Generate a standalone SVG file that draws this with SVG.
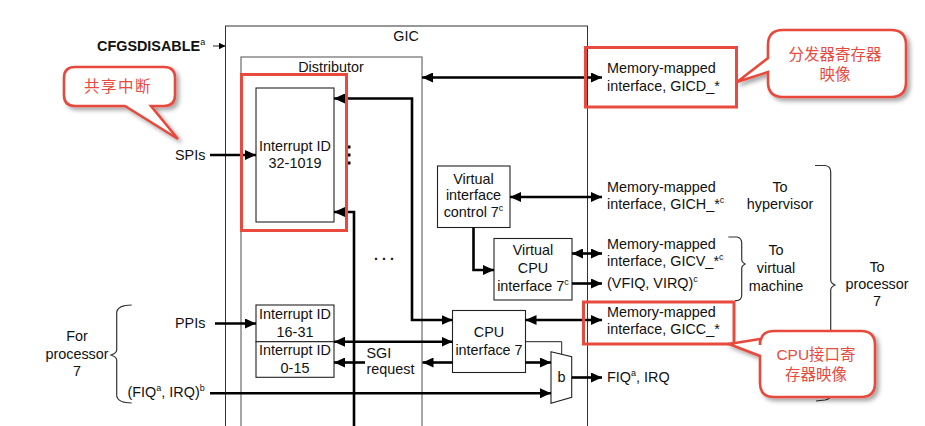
<svg xmlns="http://www.w3.org/2000/svg" width="925" height="426" viewBox="0 0 925 426">
<defs>
<style>
text{font-family:"Liberation Sans",Arial,sans-serif;font-size:14.4px;fill:#111}
.c{text-anchor:middle}
.b{font-weight:bold}
.sup{font-size:9px}
.box{fill:#fff;stroke:#222;stroke-width:1.1}
.thin{fill:none;stroke:#222;stroke-width:1}
.w{fill:none;stroke:#000;stroke-width:2.6}
.brace{fill:none;stroke:#333;stroke-width:1.2}
.red{fill:none;stroke:#E84A3E;stroke-width:3}
.call{fill:#fff;stroke:#E84A3E;stroke-width:2.6;filter:url(#sh)}
.ct{font-family:"Liberation Sans","Noto Sans CJK SC",sans-serif;font-size:15.5px;fill:#E84A3E;text-anchor:middle}
</style>
<marker id="ah" markerUnits="userSpaceOnUse" markerWidth="12" markerHeight="10" refX="11" refY="5" orient="auto-start-reverse">
<path d="M0,0 L11,5 L0,10 Z" fill="#000"/>
</marker>
<marker id="as" markerUnits="userSpaceOnUse" markerWidth="8" markerHeight="7" refX="7" refY="3.5" orient="auto">
<path d="M0,0 L7,3.5 L0,7 Z" fill="#000"/>
</marker>
<filter id="sh" x="-20%" y="-20%" width="150%" height="150%">
<feDropShadow dx="3" dy="3" stdDeviation="2" flood-color="#000" flood-opacity="0.35"/>
</filter>
</defs>

<g id="gic">
<rect x="225.5" y="26" width="362" height="420" fill="#fff" stroke="#333" stroke-width="1"/>
<text class="c" x="406" y="41">GIC</text>
</g>
<g id="distributor">
<rect x="241" y="57" width="181" height="400" fill="#fff" stroke="#777" stroke-width="1.3"/>
<text class="c" x="331" y="72">Distributor</text>
</g>
<g id="cfgsdisable">
<text class="b" x="97" y="51">CFGSDISABLE<tspan class="sup" font-weight="normal" dy="-6">a</tspan></text>
</g>
<g id="int32">
<rect class="box" x="256" y="88" width="78" height="134"/>
<text class="c" x="295" y="151">Interrupt ID</text>
<text class="c" x="295" y="168">32-1019</text>
</g>
<g id="dots">
<rect x="347.5" y="145.5" width="3" height="3" fill="#000"/>
<rect x="347.5" y="153.5" width="3" height="3" fill="#000"/>
<rect x="347.5" y="161.5" width="3" height="3" fill="#000"/>
<text class="c b" x="386" y="260" letter-spacing="4">...</text>
</g>
<g id="int16">
<rect class="box" x="256" y="305" width="78" height="36.7"/>
<text class="c" x="295" y="319">Interrupt ID</text>
<text class="c" x="295" y="336.5">16-31</text>
</g>
<g id="int0">
<rect class="box" x="256" y="341.7" width="78" height="35.6"/>
<text class="c" x="295" y="355">Interrupt ID</text>
<text class="c" x="295" y="372.5">0-15</text>
</g>
<g id="vic">
<rect class="box" x="437.5" y="166" width="72.5" height="61.5"/>
<text class="c" x="473.5" y="183.5">Virtual</text>
<text class="c" x="473.5" y="200">interface</text>
<text class="c" x="473.5" y="217">control 7<tspan class="sup" dy="-6">c</tspan></text>
</g>
<g id="vcpu">
<rect class="box" x="494" y="238.5" width="78" height="61.5"/>
<text class="c" x="533" y="255">Virtual</text>
<text class="c" x="533" y="273">CPU</text>
<text class="c" x="533" y="290.5">interface 7<tspan class="sup" dy="-6">c</tspan></text>
</g>
<g id="cpu">
<rect class="box" x="452.5" y="310.5" width="73" height="62"/>
<text class="c" x="489" y="337">CPU</text>
<text class="c" x="489" y="354.5">interface 7</text>
</g>
<g id="mux">
<path class="box" d="M551,351.7 L571.7,356.7 L571.7,397.3 L551,403.3 Z"/>
<text class="c" x="561.5" y="382">b</text>
</g>

<g id="labels">
<text x="175" y="159.5">SPIs</text>
<text x="175" y="327.5">PPIs</text>
<text x="366.5" y="357.5">SGI</text>
<text x="366.5" y="374">request</text>
<text class="c" x="77" y="341">For</text>
<text class="c" x="77" y="358.5">processor</text>
<text class="c" x="77" y="376">7</text>
<text x="127.5" y="397">(FIQ<tspan class="sup" dy="-6">a</tspan><tspan dy="6">, IRQ)</tspan><tspan class="sup" dy="-6">b</tspan></text>
<text x="607" y="73">Memory-mapped</text>
<text x="607" y="91">interface, GICD_*</text>
<text x="607" y="191.5">Memory-mapped</text>
<text x="607" y="209">interface, GICH_*<tspan class="sup" dy="-6">c</tspan></text>
<text class="c" x="780" y="191.5">To</text>
<text class="c" x="780" y="209">hypervisor</text>
<text x="607" y="248.5">Memory-mapped</text>
<text x="607" y="266">interface, GICV_*<tspan class="sup" dy="-6">c</tspan></text>
<text x="607" y="288">(VFIQ, VIRQ)<tspan class="sup" dy="-6">c</tspan></text>
<text class="c" x="776" y="255">To</text>
<text class="c" x="776" y="273">virtual</text>
<text class="c" x="776" y="290.5">machine</text>
<text class="c" x="877" y="272">To</text>
<text class="c" x="877" y="288.5">processor</text>
<text class="c" x="877" y="306">7</text>
<text x="607" y="316.5">Memory-mapped</text>
<text x="607" y="333.5">interface, GICC_*</text>
<text x="607" y="382">FIQ<tspan class="sup" dy="-6">a</tspan><tspan dy="6">, IRQ</tspan></text>
</g>

<g id="braces">
<path class="brace" d="M131.7,305 Q118,305 116.7,312 L116.7,350 Q116.7,353 111,355 Q116.7,357 116.7,360 L116.7,396 Q118,403 131.7,403"/>
<path class="brace" d="M728.3,237 L737,237 Q741.7,238 741.7,243 L741.7,260 Q741.7,262 745,264 Q741.7,266 741.7,268 L741.7,295 Q741.7,300 737,300.7 L735,300.7"/>
<path class="brace" d="M815,165.5 L825,165.5 Q830.7,166 830.7,172 L830.7,280 Q830.7,283 835,285 Q830.7,287 830.7,290 L830.7,394 Q830.7,399 825,400 L816,401"/>
</g>

<g id="connectors">
<line class="thin" x1="213" y1="46" x2="225.5" y2="46" marker-end="url(#as)"/>
<line class="w" x1="210" y1="155" x2="256" y2="155" marker-end="url(#ah)"/>
<line class="w" x1="422" y1="77.5" x2="602" y2="77.5" marker-start="url(#ah)" marker-end="url(#ah)"/>
<polyline class="w" points="334,98.5 412,98.5 412,320 452.5,320" marker-start="url(#ah)" marker-end="url(#ah)"/>
<polyline class="w" points="354,426 354,212 334,212" marker-end="url(#ah)"/>
<line class="w" x1="510" y1="197" x2="602" y2="197" marker-start="url(#ah)" marker-end="url(#ah)"/>
<polyline class="w" points="473.5,227.5 473.5,270 494,270" marker-end="url(#ah)"/>
<line class="w" x1="572" y1="253.5" x2="602" y2="253.5" marker-start="url(#ah)" marker-end="url(#ah)"/>
<line class="w" x1="572" y1="283.5" x2="602" y2="283.5" marker-end="url(#ah)"/>
<line class="w" x1="525.5" y1="320" x2="602" y2="320" marker-start="url(#ah)" marker-end="url(#ah)"/>
<line class="w" x1="215" y1="323.5" x2="256" y2="323.5" marker-end="url(#ah)"/>
<line class="w" x1="334" y1="341.7" x2="452.5" y2="341.7" marker-start="url(#ah)" marker-end="url(#ah)"/>
<line class="w" x1="452.5" y1="362.5" x2="422.5" y2="362.5" marker-end="url(#ah)"/>
<line class="w" x1="365" y1="362.5" x2="334" y2="362.5" marker-end="url(#ah)"/>
<line class="w" x1="525.5" y1="362.5" x2="551" y2="362.5" marker-end="url(#ah)"/>
<polyline class="thin" points="525.5,341.7 561.7,341.7 561.7,354.2"/>
<line class="w" x1="571.7" y1="377.5" x2="602" y2="377.5" marker-end="url(#ah)"/>
<line class="w" x1="210" y1="393.3" x2="551" y2="393.3" marker-end="url(#ah)"/>
</g>

<g id="highlights">
<rect class="red" x="241.5" y="74.5" width="105" height="156"/>
<rect class="red" x="585.5" y="47.5" width="151" height="59.5"/>
<rect class="red" x="583.5" y="302" width="150.5" height="42"/>
</g>

<g id="callout-spi">
<path class="call" d="M75,67 H164 Q175,67 175,78 V95 Q175,106 164,106 H151 L178,139 L125,106 H75 Q64,106 64,95 V78 Q64,67 75,67 Z"/>
<text class="ct" x="118" y="92" letter-spacing="1.5">共享中断</text>
</g>
<g id="callout-gicd">
<path class="call" d="M783,30 H891 Q906,30 906,45 V82 Q906,97 891,97 H783 Q768,97 768,82 V72 L737,82 L768,58 V45 Q768,30 783,30 Z"/>
<text class="ct" x="835" y="60">分发器寄存器</text>
<text class="ct" x="835" y="80">映像</text>
</g>
<g id="callout-gicc">
<path class="call" d="M774,331 H861 Q875,331 875,345 V383 Q875,397 861,397 H774 Q760,397 760,383 V356 L729,344 L760,339 V345 Q760,331 774,331 Z"/>
<text class="ct" x="816" y="360">CPU接口寄</text>
<text class="ct" x="816" y="380">存器映像</text>
</g>
</svg>
